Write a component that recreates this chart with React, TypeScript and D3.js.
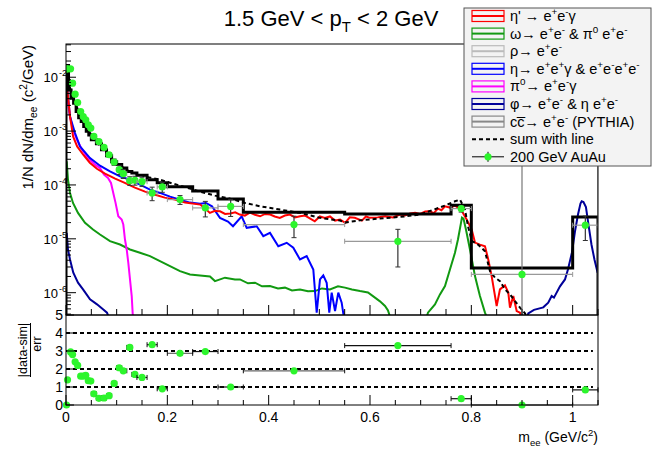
import React from 'react';
import * as d3 from 'd3';

type Pt = [number, number];

// data points (200 GeV AuAu), top pad and ratio pad
const massX = [0.001, 0.003, 0.009, 0.013, 0.018, 0.023, 0.029, 0.034, 0.039, 0.044, 0.049, 0.055, 0.065, 0.075, 0.085, 0.095, 0.105, 0.113, 0.126, 0.136, 0.15, 0.17, 0.19, 0.225, 0.275, 0.325, 0.45, 0.655, 0.78, 0.9, 1.025];
const massLo = [0, 0.002, 0.007, 0.011, 0.016, 0.021, 0.026, 0.031, 0.036, 0.041, 0.046, 0.05, 0.06, 0.07, 0.08, 0.09, 0.1, 0.11, 0.12, 0.13, 0.14, 0.16, 0.18, 0.2, 0.25, 0.3, 0.35, 0.55, 0.76, 0.8, 1.0];
const massHi = [0.002, 0.004, 0.011, 0.015, 0.02, 0.025, 0.031, 0.036, 0.041, 0.046, 0.05, 0.06, 0.07, 0.08, 0.09, 0.1, 0.11, 0.12, 0.13, 0.14, 0.16, 0.18, 0.2, 0.25, 0.3, 0.35, 0.55, 0.76, 0.8, 1.0, 1.05];
const dataVal = [0.0143, 0.0143, 0.0143, 0.00774, 0.00484, 0.00339, 0.00231, 0.00186, 0.00162, 0.00131, 0.00114, 0.000795, 0.000641, 0.000497, 0.000364, 0.000267, 0.000192, 0.000162, 0.00012, 0.000122, 0.000115, 7.1e-5, 9.2e-5, 5.35e-5, 3.75e-5, 4.0e-5, 1.84e-5, 9.0e-6, 3.64e-5, 2.18e-6, 1.79e-5];
const dataErr = [3e-4, 3e-4, 3e-4, 2e-4, 1.3e-4, 1e-4, 7e-5, 6e-5, 5e-5, 4.5e-5, 4e-5, 3e-5, 2.8e-5, 2.5e-5, 2.4e-5, 3.6e-5, 3.6e-5, 3e-5, 2.2e-5, 2.3e-5, 2.1e-5, 2.0e-5, 1.9e-5, 1.0e-5, 1.2e-5, 1.4e-5, 7.9e-6, 6e-6, 5e-6, 1e-3, 8.6e-6];
const ratioVal = [0, 1.4, 2.95, 2.8, 2.4, 2.2, 1.6, 1.6, 1.65, 1.35, 1.33, 0.62, 0.37, 0.39, 0.52, 1.2, 2.07, 1.9, 3.2, 1.7, 1.53, 3.35, 0.9, 2.87, 2.97, 1.0, 1.9, 3.3, 0.35, 0, 0.84];

// summed cocktail in data binning
const sumEdges = [0, 0.005, 0.01, 0.015, 0.02, 0.025, 0.03, 0.035, 0.04, 0.045, 0.05, 0.06, 0.07, 0.08, 0.09, 0.1, 0.11, 0.12, 0.13, 0.14, 0.16, 0.18, 0.2, 0.25, 0.3, 0.35, 0.55, 0.76, 0.8, 1.0, 1.05];
const sumVal = [0.0165, 0.00582, 0.00408, 0.0033, 0.00231, 0.00176, 0.00151, 0.00122, 0.00099, 0.00085, 0.00069, 0.00058, 0.00045, 0.00035, 0.00027, 0.000239, 0.000206, 0.000178, 0.000167, 0.000152, 0.000125, 0.00011, 9.3e-5, 7.7e-5, 5.5e-5, 3.1e-5, 2.9e-5, 4.2e-5, 2.86e-6, 2.55e-5];

// cocktail components [mass, yield]
const etaPrime: Pt[] = [[0.002, 6.6e-3], [0.008, 1.86e-3], [0.014, 7.95e-4], [0.022, 5.19e-4], [0.034, 3.64e-4], [0.047, 2.59e-4], [0.061, 2.0e-4], [0.077, 1.62e-4], [0.097, 1.31e-4], [0.116, 1.09e-4], [0.136, 8.91e-5], [0.156, 7.51e-5], [0.176, 6.6e-5], [0.195, 5.82e-5], [0.215, 5.34e-5], [0.235, 4.7e-5], [0.265, 4.32e-5], [0.275, 3.6e-5], [0.284, 3.03e-5], [0.294, 3.3e-5], [0.304, 3.24e-5], [0.314, 2.9e-5], [0.324, 2.94e-5], [0.334, 3.1e-5], [0.343, 2.82e-5], [0.353, 2.7e-5], [0.363, 3.07e-5], [0.373, 2.8e-5], [0.383, 2.62e-5], [0.393, 2.9e-5], [0.403, 2.82e-5], [0.412, 2.6e-5], [0.422, 2.45e-5], [0.432, 2.7e-5], [0.442, 2.82e-5], [0.452, 2.5e-5], [0.462, 2.62e-5], [0.472, 2.7e-5], [0.482, 2.38e-5], [0.491, 2.12e-5], [0.501, 2.6e-5], [0.511, 2.45e-5], [0.521, 2.6e-5], [0.531, 2.18e-5], [0.541, 2.28e-5], [0.551, 1.98e-5], [0.56, 2.5e-5], [0.57, 2.45e-5], [0.584, 2.18e-5], [0.592, 2.6e-5], [0.6, 2.45e-5], [0.615, 2.5e-5], [0.63, 2.62e-5], [0.645, 2.5e-5], [0.659, 2.82e-5], [0.669, 2.7e-5], [0.679, 2.94e-5], [0.689, 3.03e-5], [0.699, 2.9e-5], [0.709, 3.2e-5], [0.718, 3.24e-5], [0.726, 3.0e-5], [0.734, 3.64e-5], [0.741, 3.4e-5], [0.748, 4.02e-5], [0.758, 3.8e-5], [0.768, 4.14e-5], [0.7796, 3.49e-5], [0.7908, 2.28e-5], [0.8007, 1.49e-5], [0.8072, 8.5e-6], [0.817, 7.8e-6], [0.8269, 7.3e-6], [0.8334, 4.14e-6], [0.8401, 2.03e-6], [0.85, 5.65e-7], [0.8565, 1.15e-6], [0.8664, 1.37e-6], [0.8729, 1.01e-6], [0.8763, 5.28e-7], [0.8828, 8.65e-7], [0.8895, 4.56e-7], [0.896, 4.26e-7], [0.9, 3e-7]];
const eta: Pt[] = [[0.002, 6.61e-3], [0.0079, 1.86e-3], [0.0178, 9.18e-4], [0.0276, 5.19e-4], [0.0474, 3.16e-4], [0.0671, 2.28e-4], [0.0868, 1.79e-4], [0.1066, 1.44e-4], [0.1263, 1.25e-4], [0.146, 1.01e-4], [0.1658, 8.18e-5], [0.1855, 7.11e-5], [0.2053, 6.07e-5], [0.225, 5.34e-5], [0.2447, 4.7e-5], [0.2645, 4.5e-5], [0.2763, 4.64e-5], [0.2881, 4.02e-5], [0.3039, 2.45e-5], [0.3197, 2.09e-5], [0.3296, 1.71e-5], [0.3468, 2.62e-5], [0.3566, 1.6e-5], [0.3764, 1.71e-5], [0.3894, 1.12e-5], [0.4026, 1.29e-5], [0.419, 7.3e-6], [0.4356, 8.43e-6], [0.4486, 6.81e-6], [0.4618, 4.14e-6], [0.475, 4.76e-6], [0.4881, 2.7e-6], [0.4948, 4.26e-7], [0.5013, 1.76e-6], [0.5078, 2.09e-6], [0.5145, 1.53e-6], [0.5196, 4.26e-7], [0.5244, 1.0e-6], [0.531, 4.56e-7], [0.5374, 1.0e-6], [0.5441, 6.53e-7], [0.5473, 4.1e-7], [0.5506, 3e-7]];
const pi0: Pt[] = [[0.0014, 6.7e-3], [0.0039, 3.3e-3], [0.0079, 1.86e-3], [0.0138, 1.06e-3], [0.0217, 6.9e-4], [0.0316, 4.5e-4], [0.0434, 3.16e-4], [0.0572, 2.38e-4], [0.0671, 2.06e-4], [0.075, 1.55e-4], [0.0829, 1.35e-4], [0.0888, 1.09e-4], [0.0933, 7.11e-5], [0.0977, 4.7e-5], [0.1032, 2.62e-5], [0.1099, 2.28e-5], [0.1131, 1.84e-5], [0.1164, 9.7e-6], [0.1198, 6.34e-6], [0.123, 3.59e-6], [0.1263, 1.76e-6], [0.1297, 8.65e-7], [0.1316, 4.14e-7], [0.1332, 3e-7]];
const omegaLow: Pt[] = [[0.0014, 2.74e-4], [0.0039, 1.25e-4], [0.0079, 7.11e-5], [0.0138, 4.64e-5], [0.0237, 3.03e-5], [0.0375, 1.98e-5], [0.0533, 1.49e-5], [0.0671, 1.2e-5], [0.0868, 9.03e-6], [0.1066, 7.84e-6], [0.1263, 6.34e-6], [0.146, 5.5e-6], [0.1658, 4.76e-6], [0.1855, 3.85e-6], [0.2053, 3.11e-6], [0.225, 2.51e-6], [0.2447, 2.18e-6], [0.2645, 2.09e-6], [0.2842, 2.0e-6], [0.294, 1.64e-6], [0.3138, 1.9e-6], [0.3335, 1.76e-6], [0.3434, 1.76e-6], [0.3592, 1.49e-6], [0.373, 1.53e-6], [0.3868, 1.31e-6], [0.4026, 1.33e-6], [0.4184, 1.2e-6], [0.4322, 1.24e-6], [0.446, 1.1e-6], [0.4618, 1.15e-6], [0.4776, 1.06e-6], [0.4914, 1.07e-6], [0.5052, 1.2e-6], [0.521, 1.15e-6], [0.5368, 1.31e-6], [0.5506, 1.24e-6], [0.5644, 1.15e-6], [0.5802, 1.07e-6], [0.596, 1.01e-6], [0.6098, 8.08e-7], [0.6197, 6.9e-7], [0.6296, 5.65e-7], [0.6355, 4.7e-7], [0.6394, 3.6e-7]];
const omegaPeak: Pt[] = [[0.71, 3e-7], [0.7144, 4.26e-7], [0.7282, 6.07e-7], [0.7381, 9.3e-7], [0.748, 1.33e-6], [0.7578, 2.7e-6], [0.7677, 5.5e-6], [0.7736, 9.7e-6], [0.7796, 1.98e-5], [0.7815, 2.48e-5], [0.7845, 2.38e-5], [0.7894, 1.49e-5], [0.7973, 6.34e-6], [0.8072, 2.03e-6], [0.817, 8.65e-7], [0.8269, 4.26e-7], [0.8309, 3.4e-7]];
const phiLow: Pt[] = [[0.0014, 1.29e-5], [0.0039, 6.34e-6], [0.0079, 4.14e-6], [0.0144, 2.35e-6], [0.0237, 1.53e-6], [0.0336, 1.15e-6], [0.0474, 7.51e-7], [0.0612, 6.07e-7], [0.073, 4.91e-7], [0.0809, 4.26e-7], [0.0849, 3.4e-7]];
const phiPeak: Pt[] = [[0.908, 3e-7], [0.9124, 4.14e-7], [0.9236, 4.8e-7], [0.942, 5.34e-7], [0.9518, 6.53e-7], [0.9585, 8.65e-7], [0.9631, 8.08e-7], [0.975, 1.31e-6], [0.9848, 1.76e-6], [0.9907, 2.7e-6], [0.9986, 5.57e-6], [1.0045, 1.36e-5], [1.0105, 2.82e-5], [1.0154, 4.5e-5], [1.0178, 4.97e-5], [1.0213, 4.8e-5], [1.0262, 3.88e-5], [1.0312, 1.84e-5], [1.0371, 7.84e-6], [1.043, 4.14e-6], [1.0493, 2.35e-6]];
const sumLine: Pt[] = [[0.002, 1.69e-2], [0.0059, 8.91e-3], [0.0079, 6.34e-3], [0.0138, 4.32e-3], [0.0237, 2.48e-3], [0.0336, 1.55e-3], [0.0474, 9.3e-4], [0.0671, 5.34e-4], [0.0868, 3.2e-4], [0.1066, 2.28e-4], [0.1263, 1.76e-4], [0.146, 1.55e-4], [0.1658, 1.37e-4], [0.1855, 1.25e-4], [0.2053, 1.1e-4], [0.225, 9.7e-5], [0.2447, 8.54e-5], [0.2645, 7.51e-5], [0.294, 6.34e-5], [0.3237, 5.58e-5], [0.3533, 4.64e-5], [0.3829, 4.02e-5], [0.4223, 3.49e-5], [0.4618, 3.03e-5], [0.5013, 2.45e-5], [0.5408, 2.18e-5], [0.5506, 2.0e-5], [0.5802, 2.2e-5], [0.6197, 2.38e-5], [0.6592, 2.55e-5], [0.6987, 2.82e-5], [0.748, 4.14e-5], [0.7677, 4.97e-5], [0.7776, 5.34e-5], [0.7875, 3.49e-5], [0.7934, 1.71e-5], [0.8013, 9.03e-6], [0.8131, 7.84e-6], [0.8269, 5.89e-6], [0.8368, 2.51e-6], [0.8467, 1.9e-6], [0.8565, 1.64e-6], [0.8664, 1.15e-6], [0.8763, 9.3e-7], [0.8861, 6.99e-7], [0.896, 5.28e-7], [0.9059, 4.14e-7], [0.9098, 3.4e-7]];

const yDecades = [1e-6, 1e-5, 1e-4, 1e-3, 1e-2];
const xTickLabels = [0, 0.2, 0.4, 0.6, 0.8, 1];
const ratioTicks = [0, 1, 2, 3, 4, 5];
const ratioRefs = [1, 2, 3, 4];

const legendLabels = [
  "η' → e^{+}e^{-}γ",
  'ω→ e^{+}e^{-} & π^{0} e^{+}e^{-}',
  'ρ→ e^{+}e^{-}',
  'η→ e^{+}e^{+}γ & e^{+}e^{-}e^{+}e^{-}',
  'π^{0}→ e^{+}e^{-}γ',
  'φ→ e^{+}e^{-} & η e^{+}e^{-}',
  'cc\u0305→ e^{+}e^{-} (PYTHIA)',
  'sum with line',
  '200 GeV AuAu',
];
const legendColors = ['#ff0000', '#119911', '#bbbbbb', '#0000ff', '#ff00ff', '#000099', '#888888'];

const FONT = '"Liberation Sans", Arial, Helvetica, sans-serif';
const W = 664, H = 450;
const L = 66, R = 598, T = 44, MID = 315, B = 405;

const x = d3.scaleLinear().domain([0, 1.05]).range([L, R]);
const y = d3.scaleLog().domain([3.85e-7, 0.0414]).range([MID, T]);
const yr = d3.scaleLinear().domain([0, 5]).range([B, MID]);

// tiny ROOT-latex-like ^{} _{} renderer
function Rich({ s, fs }: { s: string; fs: number }) {
  const parts = s.split(/(\^\{[^}]*\}|_\{[^}]*\})/).filter(p => p !== '');
  let cur = 0;
  return (
    <>
      {parts.map((p, i) => {
        let target = 0, size = fs, txt = p;
        if (p.startsWith('^{')) { target = -0.42 * fs; size = 0.68 * fs; txt = p.slice(2, -1); }
        else if (p.startsWith('_{')) { target = 0.28 * fs; size = 0.68 * fs; txt = p.slice(2, -1); }
        const dy = target - cur;
        cur = target;
        return <tspan key={i} dy={dy} fontSize={size}>{txt}</tspan>;
      })}
    </>
  );
}

export default function App() {
  const line = d3.line<Pt>().x(d => x(d[0])).y(d => y(d[1]));

  let hist = `M${x(sumEdges[0])},${MID}`;
  sumVal.forEach((v, i) => { hist += `V${y(v)}H${x(sumEdges[i + 1])}`; });
  hist += `V${MID}`;

  const xTicks = d3.range(0, 22).map(i => i * 0.05);
  const isMajor = (v: number) => Math.abs(v / 0.2 - Math.round(v / 0.2)) < 1e-6;
  const yMinor: number[] = [];
  [1e-7, 1e-6, 1e-5, 1e-4, 1e-3, 1e-2].forEach(d => {
    for (let m = 2; m <= 9; m++) {
      const v = m * d;
      if (v > 3.85e-7 && v < 0.0414) yMinor.push(v);
    }
  });

  const curves: { pts: Pt[]; color: string }[] = [
    { pts: omegaLow, color: legendColors[1] },
    { pts: omegaPeak, color: legendColors[1] },
    { pts: phiLow, color: legendColors[5] },
    { pts: phiPeak, color: legendColors[5] },
    { pts: pi0, color: legendColors[4] },
    { pts: eta, color: legendColors[3] },
    { pts: etaPrime, color: legendColors[0] },
  ];

  const rowY = (i: number) => 16 + i * 17.6;

  return (
    <svg width={W} height={H} style={{ position: 'absolute', left: 0, top: 0 }} fontFamily={FONT}>
      <defs>
        <clipPath id="topclip"><rect x={L} y={T} width={R - L} height={MID - T} /></clipPath>
      </defs>
      <rect width={W} height={H} fill="#fff" />

      {/* title */}
      <text x={331} y={26} textAnchor="middle" fontSize={22}>
        <Rich s="1.5 GeV < p_{T} < 2 GeV" fs={22} />
      </text>

      {/* upper pad */}
      <g clipPath="url(#topclip)">
        {curves.map((c, i) => (
          <path key={i} d={line(c.pts) || ''} fill="none" stroke={c.color} strokeWidth={2} />
        ))}
        <path d={line(sumLine) || ''} fill="none" stroke="#000" strokeWidth={2} strokeDasharray="4,3" />
        <path d={hist} fill="none" stroke="#000" strokeWidth={3} />
        <line x1={x(1.05)} x2={x(1.05)} y1={T} y2={MID} stroke="#777" strokeWidth={1.2} />
        {massX.map((m, i) => {
          const v = dataVal[i], e = dataErr[i];
          const yHi = y(v + e);
          const yLo = v - e > 0 ? y(v - e) : MID + 5;
          const cy = y(v);
          return (
            <g key={i}>
              <line x1={x(massLo[i])} x2={x(massHi[i])} y1={cy} y2={cy} stroke="#999" strokeWidth={1.2} />
              <line x1={x(massLo[i])} x2={x(massLo[i])} y1={cy - 2.5} y2={cy + 2.5} stroke="#999" />
              <line x1={x(massHi[i])} x2={x(massHi[i])} y1={cy - 2.5} y2={cy + 2.5} stroke="#999" />
              <line x1={x(m)} x2={x(m)} y1={yHi} y2={yLo} stroke={i === 29 ? '#777' : '#333'} strokeWidth={1.2} />
              <line x1={x(m) - 2.5} x2={x(m) + 2.5} y1={yHi} y2={yHi} stroke="#333" />
              <line x1={x(m) - 2.5} x2={x(m) + 2.5} y1={yLo} y2={yLo} stroke="#333" />
              <circle cx={x(m)} cy={cy} r={3.6} fill="#2cf52c" />
            </g>
          );
        })}
      </g>

      {/* upper pad axes */}
      {xTicks.map((v, i) => (
        <line key={i} x1={x(v)} x2={x(v)} y1={MID} y2={MID - (isMajor(v) ? 10 : 6)} stroke="#000" />
      ))}
      {yDecades.map((v, i) => (
        <g key={i}>
          <line x1={L} x2={L + 10} y1={y(v)} y2={y(v)} stroke="#000" />
          <text x={58} y={y(v) + 5} textAnchor="end" fontSize={13}>10</text>
          <text x={59} y={y(v) - 1} fontSize={9}>{`-${-Math.round(Math.log10(v))}`}</text>
        </g>
      ))}
      {yMinor.map((v, i) => (
        <line key={i} x1={L} x2={L + 5} y1={y(v)} y2={y(v)} stroke="#000" />
      ))}
      <text transform={`translate(33,${T + 1}) rotate(-90)`} textAnchor="end" fontSize={15}>
        <Rich s="1/N dN/dm_{ee} (c^{2}/GeV)" fs={15} />
      </text>
      <rect x={L} y={T} width={R - L} height={MID - T} fill="none" stroke="#000" />

      {/* lower pad */}
      {ratioRefs.map(v => (
        <line key={v} x1={x(0)} x2={x(1.04)} y1={yr(v)} y2={yr(v)} stroke="#000" strokeWidth={2} strokeDasharray="4,3" />
      ))}
      {massX.map((m, i) => (
        <g key={i}>
          <line x1={x(massLo[i])} x2={x(massHi[i])} y1={yr(ratioVal[i])} y2={yr(ratioVal[i])} stroke={i === 23 || i === 26 ? '#666' : '#111'} strokeWidth={1.2} />
          <line x1={x(massLo[i])} x2={x(massLo[i])} y1={yr(ratioVal[i]) - 2.5} y2={yr(ratioVal[i]) + 2.5} stroke="#111" />
          <line x1={x(massHi[i])} x2={x(massHi[i])} y1={yr(ratioVal[i]) - 2.5} y2={yr(ratioVal[i]) + 2.5} stroke="#111" />
          <circle cx={x(m)} cy={yr(ratioVal[i])} r={3.6} fill="#2cf52c" />
        </g>
      ))}
      {xTicks.map((v, i) => (
        <line key={i} x1={x(v)} x2={x(v)} y1={B} y2={B - (isMajor(v) ? 10 : 5)} stroke="#000" />
      ))}
      {ratioTicks.map(v => (
        <g key={v}>
          <line x1={L} x2={L + 8} y1={yr(v)} y2={yr(v)} stroke="#000" />
          <text x={63} y={yr(v) + 5} textAnchor="end" fontSize={14}>{v}</text>
        </g>
      ))}
      {xTickLabels.map(v => (
        <text key={v} x={x(v)} y={422} textAnchor="middle" fontSize={14}>{v}</text>
      ))}
      <text x={R} y={442} textAnchor="end" fontSize={14}>
        <Rich s="m_{ee} (GeV/c^{2})" fs={14} />
      </text>
      <text transform="translate(27,350) rotate(-90)" textAnchor="middle" fontSize={12.5}>|data-sim|</text>
      <line x1={30.5} x2={30.5} y1={323} y2={377} stroke="#000" strokeWidth={1} />
      <text transform="translate(41,344) rotate(-90)" textAnchor="middle" fontSize={12.5}>err</text>
      <rect x={L} y={MID} width={R - L} height={B - MID} fill="none" stroke="#000" />

      {/* legend */}
      <rect x={464} y={8} width={187} height={158} fill="#f3f3f3" stroke="#555" />
      {legendLabels.map((lab, i) => {
        const cy = rowY(i);
        return (
          <g key={i}>
            {i < 7 && (
              <>
                <rect x={472} y={cy - 5.5} width={32} height={11} fill="none" stroke={legendColors[i]} strokeWidth={1.2} />
                <line x1={472} x2={504} y1={cy} y2={cy} stroke={legendColors[i]} strokeWidth={2} />
              </>
            )}
            {i === 7 && <line x1={472} x2={504} y1={cy} y2={cy} stroke="#000" strokeWidth={2} strokeDasharray="4,3" />}
            {i === 8 && (
              <>
                <line x1={472} x2={504} y1={cy} y2={cy} stroke="#000" strokeWidth={1} />
                <line x1={488} x2={488} y1={cy - 5} y2={cy + 5} stroke="#000" strokeWidth={1} />
                <circle cx={488} cy={cy} r={3.6} fill="#2cf52c" />
              </>
            )}
            <text x={510} y={cy + 5} fontSize={14.5}>
              <Rich s={lab} fs={14.5} />
            </text>
          </g>
        );
      })}
    </svg>
  );
}
